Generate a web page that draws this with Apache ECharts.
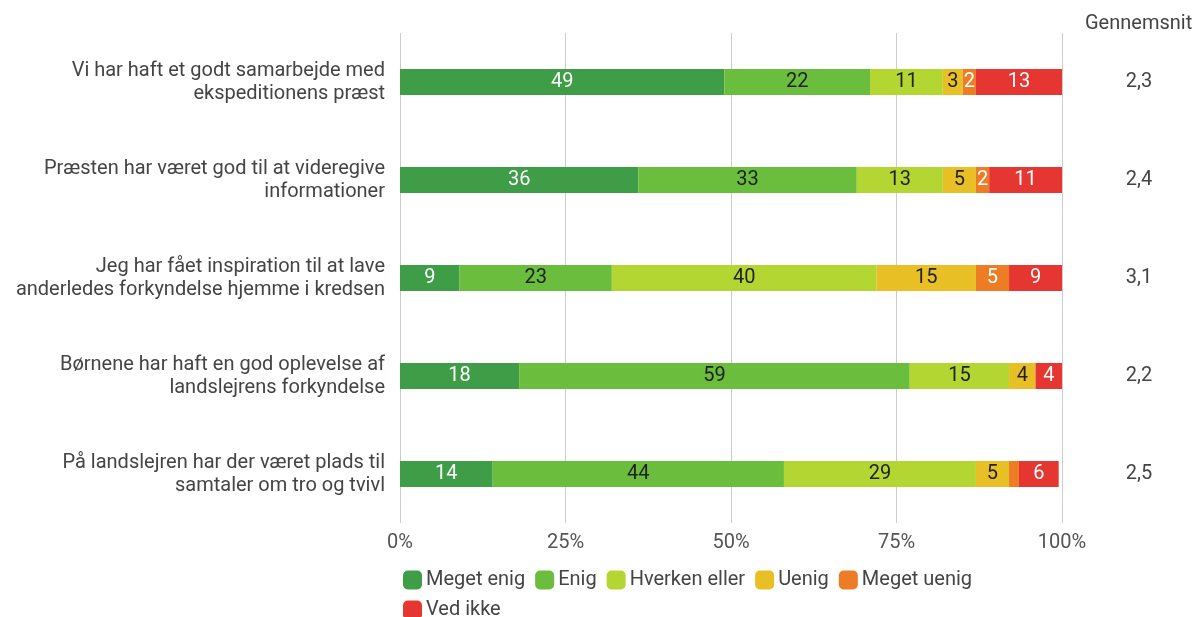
<!DOCTYPE html>
<html>
<head>
<meta charset="utf-8">
<script src="https://cdn.jsdelivr.net/npm/echarts@6/dist/echarts.min.js"></script>
<style>
  html, body { margin: 0; padding: 0; background: #fff; }
  #chart { width: 1194px; height: 617px; }
</style>
</head>
<body>
<div id="chart"></div>
<script>
// Survey statements (top to bottom)
const statements = [
  'Vi har haft et godt samarbejde med\nekspeditionens præst',
  'Præsten har været god til at videregive\ninformationer',
  'Jeg har fået inspiration til at lave\nanderledes forkyndelse hjemme i kredsen',
  'Børnene har haft en god oplevelse af\nlandslejrens forkyndelse',
  'På landslejren har der været plads til\nsamtaler om tro og tvivl'
];

// Average score per statement
const averages = ['2,3', '2,4', '3,1', '2,2', '2,5'];

// Answer shares in percent, one array per answer option
const megetEnig  = [49, 36,  9, 18, 14];
const enig       = [22, 33, 23, 59, 44];
const hverken    = [11, 13, 40, 15, 29];
const uenig      = [ 3,  5, 15,  4,  5];
const megetUenig = [ 2,  2,  5,  0, 1.5];
const vedIkke    = [13, 11,  9,  4,  6];

const xTicks = [0, 25, 50, 75, 100];

const seriesDefs = [
  { name: 'Meget enig',    data: megetEnig,  color: '#3f9c47', text: '#ffffff' },
  { name: 'Enig',          data: enig,       color: '#6bbd3d', text: '#222222' },
  { name: 'Hverken eller', data: hverken,    color: '#b4d632', text: '#222222' },
  { name: 'Uenig',         data: uenig,      color: '#e8bf24', text: '#222222' },
  { name: 'Meget uenig',   data: megetUenig, color: '#ed7d25', text: '#ffffff' },
  { name: 'Ved ikke',      data: vedIkke,    color: '#e63631', text: '#ffffff' }
];

const chart = echarts.init(document.getElementById('chart'), null, { renderer: 'canvas' });

const FONT = 'Roboto';
const FS = 20;

chart.setOption({
  animation: false,
  textStyle: { fontFamily: FONT },
  title: {
    text: 'Gennemsnit',
    left: 1080,
    top: 9,
    textStyle: { fontFamily: FONT, fontSize: FS, fontWeight: 'normal', color: '#444' }
  },
  legend: {
    left: 398,
    top: 565,
    width: 620,
    itemWidth: 19,
    itemHeight: 19,
    itemGap: 10,
    icon: 'roundRect',
    textStyle: { fontFamily: FONT, fontSize: FS, color: '#444', padding: [0, 0, 0, -1] },
    data: seriesDefs.map(s => s.name)
  },
  grid: { left: 400, right: 132, top: 33, bottom: 94, containLabel: false },
  xAxis: {
    type: 'value',
    min: xTicks[0],
    max: xTicks[xTicks.length - 1],
    interval: 25,
    axisLine: { show: false },
    axisTick: { show: false },
    splitLine: { show: true, lineStyle: { color: '#cccccc', width: 1 } },
    axisLabel: {
      formatter: v => v + '%',
      fontFamily: FONT,
      fontSize: FS,
      color: '#555',
      margin: 10
    }
  },
  yAxis: [
    {
      type: 'category',
      inverse: true,
      data: statements,
      axisLine: { show: false },
      axisTick: { show: false },
      axisLabel: {
        fontFamily: FONT,
        fontSize: FS,
        lineHeight: 23,
        color: '#444',
        margin: 15,
        align: 'right'
      }
    },
    {
      type: 'category',
      inverse: true,
      position: 'right',
      data: averages,
      axisLine: { show: false },
      axisTick: { show: false },
      axisLabel: {
        fontFamily: FONT,
        fontSize: FS,
        color: '#444',
        margin: 77,
        align: 'center'
      }
    }
  ],
  series: seriesDefs.map(s => ({
    name: s.name,
    type: 'bar',
    stack: 'total',
    barWidth: 26,
    data: s.data,
    itemStyle: { color: s.color },
    label: {
      show: true,
      position: 'inside',
      fontFamily: FONT,
      fontSize: FS,
      color: s.text,
      formatter: p => (p.value >= 2 ? String(p.value) : '')
    }
  }))
});
</script>
</body>
</html>
